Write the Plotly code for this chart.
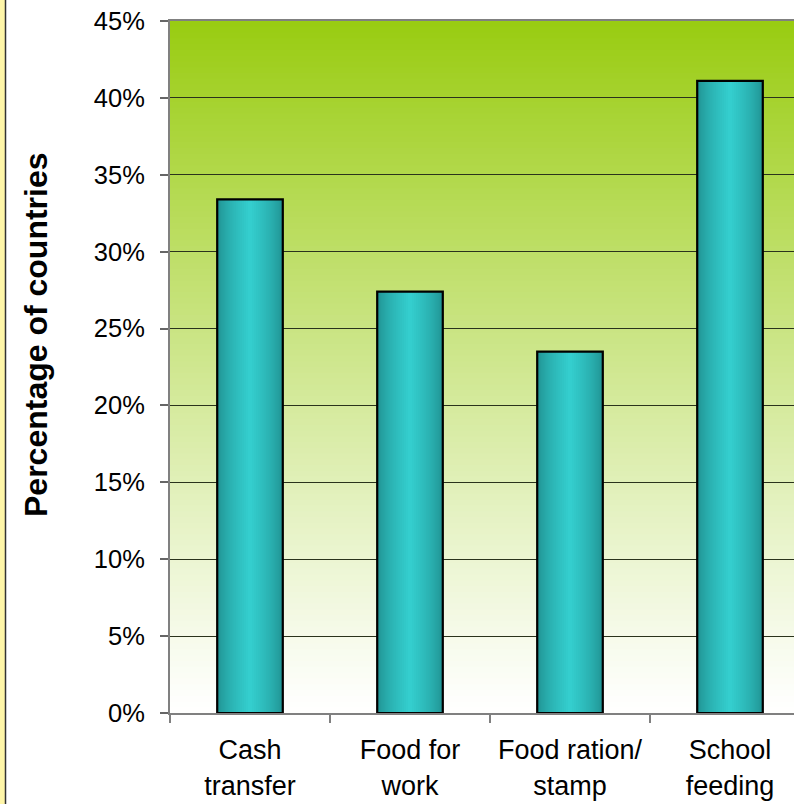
import plotly.graph_objects as go

# ---- data ----
categories = ["Cash<br>transfer", "Food for<br>work", "Food ration/<br>stamp", "School<br>feeding"]
values = [33.4, 27.4, 23.5, 41.1]
y_tickvals = [0, 5, 10, 15, 20, 25, 30, 35, 40, 45]
y_ticktext = ["0%", "5%", "10%", "15%", "20%", "25%", "30%", "35%", "40%", "45%"]
y_title = "Percentage of countries"

# ---- geometry (pixels) ----
W_PX, H_PX = 794, 804
M_L, M_R, M_T, M_B = 170, 0, 21, 91
PW = W_PX - M_L - M_R
PH = H_PX - M_T - M_B

FONT = "Liberation Sans, Arial, sans-serif"

fig = go.Figure()

# bars with horizontal cylinder-like gradient: stacked overlay layers
BAR_W = 0.41
N_LAYERS = 16
edge = (32, 146, 146)
center = (52, 206, 206)
for i in range(N_LAYERS):
    f = (i / (N_LAYERS - 1)) ** 0.7
    col = tuple(int(round(edge[k] + (center[k] - edge[k]) * f)) for k in range(3))
    w = BAR_W * (1 - i / N_LAYERS)
    fig.add_trace(go.Bar(
        x=categories, y=values, width=w,
        marker=dict(color=f"rgb{col}", line=dict(width=0)),
        hoverinfo="skip", showlegend=False,
    ))
# outline
fig.add_trace(go.Bar(
    x=categories, y=values, width=BAR_W,
    marker=dict(color="rgba(0,0,0,0)", line=dict(color="black", width=2.2)),
    hoverinfo="skip", showlegend=False,
))

# background vertical gradient (green top -> white bottom)
shapes = []
N_STRIPS = 120
top = (153, 204, 17)
bot = (255, 255, 255)
for i in range(N_STRIPS):
    t = (i + 0.5) / N_STRIPS  # 0 bottom, 1 top
    f = t ** 1.1
    col = tuple(int(round(bot[k] + (top[k] - bot[k]) * f)) for k in range(3))
    shapes.append(dict(
        type="rect", xref="paper", yref="paper",
        x0=0, x1=1, y0=i / N_STRIPS, y1=(i + 1) / N_STRIPS + 0.002,
        fillcolor=f"rgb{col}", line=dict(width=0), layer="below",
    ))

# left yellow frame strip
shapes.append(dict(
    type="rect", xref="paper", yref="paper",
    x0=-M_L / PW, x1=(-M_L + 5) / PW, y0=-M_B / PH, y1=1 + M_T / PH,
    fillcolor="#fff6a8", line=dict(width=0), layer="above",
))
shapes.append(dict(
    type="line", xref="paper", yref="paper",
    x0=(-M_L + 5.5) / PW, x1=(-M_L + 5.5) / PW, y0=-M_B / PH, y1=1 + M_T / PH,
    line=dict(color="#333333", width=1.5), layer="above",
))

fig.update_layout(
    width=W_PX, height=H_PX,
    margin=dict(l=M_L, r=M_R, t=M_T, b=M_B, autoexpand=False),
    paper_bgcolor="white", plot_bgcolor="white",
    barmode="overlay",
    showlegend=False,
    shapes=shapes,
    font=dict(family=FONT, size=25, color="black"),
    xaxis=dict(
        type="category", range=[-0.5, 3.4],
        tickson="boundaries", ticks="outside", ticklen=8, tickwidth=1.5,
        tickcolor="#808080",
        ticklabelstandoff=12,
        showline=True, linecolor="#808080", linewidth=2, mirror=True,
        showgrid=False, zeroline=False,
        tickfont=dict(family=FONT, size=27, color="black"),
        automargin=False,
    ),
    yaxis=dict(
        range=[0, 45], tickvals=y_tickvals, ticktext=y_ticktext,
        ticks="outside", ticklen=8, tickwidth=1.5, tickcolor="#666666",
        ticklabelstandoff=10,
        showline=True, linecolor="#808080", linewidth=2, mirror=False,
        showgrid=True, gridcolor="#2a331c", gridwidth=1,
        zeroline=False,
        tickfont=dict(family=FONT, size=25.5, color="black"),
        automargin=False,
    ),
    annotations=[dict(
        text=y_title, xref="paper", yref="paper",
        x=(36 - M_L) / PW, y=(H_PX - M_B - 335) / PH,
        xanchor="center", yanchor="middle", textangle=-90, showarrow=False,
        font=dict(family=FONT, size=32, color="black", weight="bold"),
    )],
)

fig.write_html("out.html")
